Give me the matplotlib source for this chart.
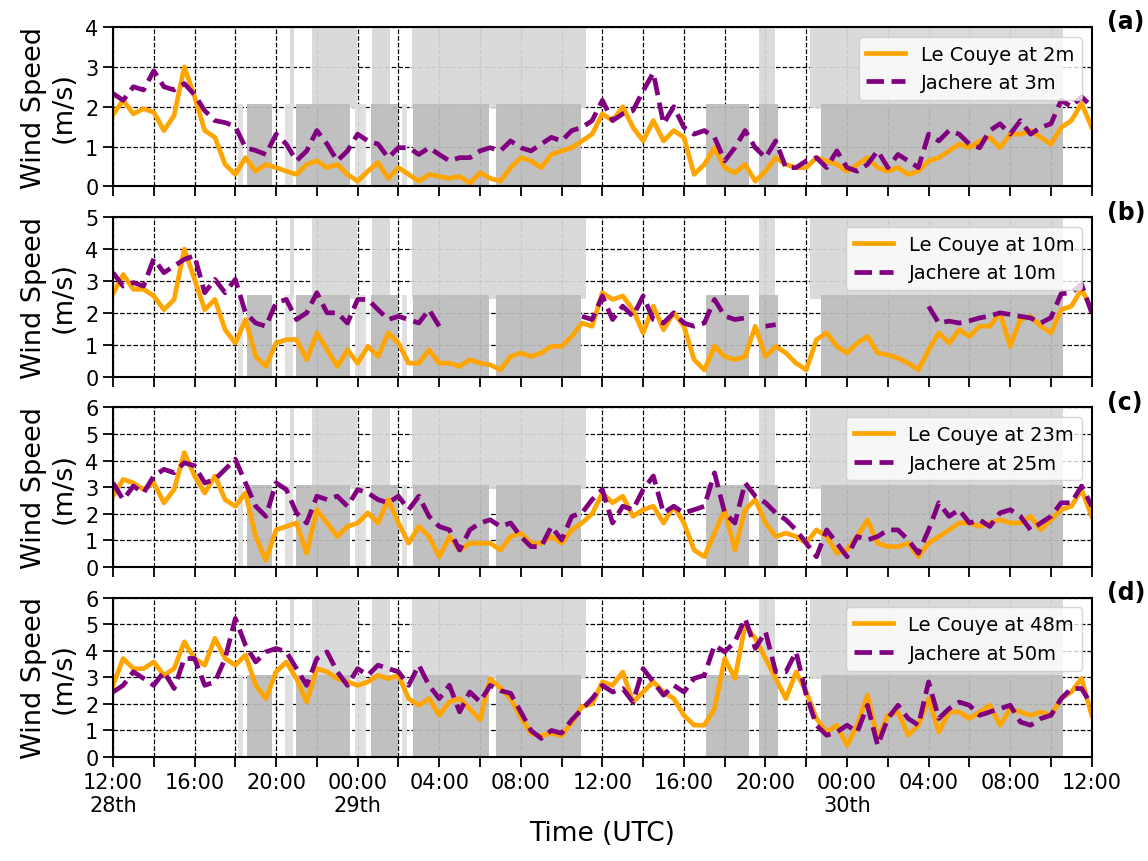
import numpy as np
import pandas as pd
import matplotlib
matplotlib.use("Agg")
import matplotlib.pyplot as plt

nan = np.nan

# 30-min wind speeds (m/s), 28th 12:00 -> 30th 12:00 UTC
le_couye_2m = [
    1.80, 2.16, 1.82, 1.95, 1.86, 1.40, 1.78, 3.00, 2.25, 1.40, 1.23, 0.55,
    0.30, 0.72, 0.38, 0.55, 0.47, 0.38, 0.30, 0.55, 0.64, 0.47, 0.55, 0.30,
    0.13, 0.38, 0.60, 0.20, 0.47, 0.30, 0.13, 0.30, 0.25, 0.20, 0.25, 0.08,
    0.34, 0.20, 0.13, 0.47, 0.72, 0.64, 0.47, 0.80, 0.89, 0.97, 1.14, 1.31,
    1.82, 1.65, 2.00, 1.48, 1.14, 1.65, 1.14, 1.40, 1.23, 0.30, 0.55, 0.97,
    0.47, 0.34, 0.55, 0.13, 0.38, 0.72, 0.55, 0.47, 0.47, 0.72, 0.64, 0.55,
    0.38, 0.55, 0.72, 0.47, 0.38, 0.47, 0.30, 0.38, 0.64, 0.72, 0.89, 1.06,
    0.97, 1.14, 1.23, 0.97, 1.31, 1.31, 1.40, 1.23, 1.06, 1.48, 1.65, 2.08,
    1.48]
jachere_3m = [
    2.33, 2.16, 2.50, 2.42, 2.90, 2.50, 2.42, 2.58, 2.30, 1.90, 1.65, 1.60,
    1.50, 0.97, 0.90, 0.80, 1.31, 1.06, 0.64, 0.89, 1.40, 1.06, 0.64, 0.89,
    1.31, 1.14, 1.06, 0.72, 0.97, 0.97, 0.80, 0.97, 0.80, 0.64, 0.72, 0.72,
    0.89, 0.97, 0.89, 1.14, 0.97, 0.89, 1.06, 1.23, 1.14, 1.40, 1.48, 1.65,
    2.16, 1.65, 1.82, 1.90, 2.40, 2.85, 1.57, 2.00, 1.48, 1.31, 1.40, 1.23,
    0.64, 0.97, 1.40, 0.97, 0.72, 1.14, 0.47, 0.47, 0.64, 0.72, 0.47, 0.89,
    0.47, 0.38, 0.55, 0.89, 0.47, 0.80, 0.64, 0.47, 1.31, 1.14, 1.40, 1.31,
    1.06, 0.97, 1.40, 1.57, 1.31, 1.65, 1.31, 1.48, 1.57, 2.16, 2.00, 2.25,
    2.00]

le_couye_10m = [
    2.60, 3.20, 2.74, 2.74, 2.53, 2.10, 2.42, 4.00, 3.05, 2.10, 2.42, 1.47,
    1.05, 1.79, 0.63, 0.32, 1.05, 1.16, 1.16, 0.53, 1.37, 0.84, 0.32, 0.84,
    0.42, 0.95, 0.63, 1.37, 1.05, 0.42, 0.42, 0.84, 0.42, 0.42, 0.32, 0.53,
    0.42, 0.37, 0.21, 0.63, 0.74, 0.63, 0.74, 0.95, 0.95, 1.26, 1.68, 1.58,
    2.63, 2.42, 2.53, 2.10, 1.37, 2.21, 1.47, 2.00, 1.58, 0.53, 0.21, 0.95,
    0.63, 0.53, 0.63, 1.58, 0.63, 0.95, 0.74, 0.42, 0.21, 1.16, 1.37, 0.95,
    0.74, 1.05, 1.26, 0.74, 0.68, 0.58, 0.42, 0.21, 0.84, 1.37, 1.05, 1.47,
    1.26, 1.58, 1.58, 2.00, 0.95, 1.79, 1.89, 1.58, 1.37, 2.10, 2.21, 2.74,
    2.10]
jachere_10m = [
    3.26, 2.84, 2.95, 2.84, 3.70, 3.26, 3.47, 3.68, 3.79, 2.63, 3.05, 2.63,
    3.05, 2.00, 1.68, 1.58, 2.32, 2.42, 1.79, 2.00, 2.63, 2.00, 2.00, 1.68,
    2.42, 2.42, 2.10, 1.79, 1.89, 1.79, 1.68, 2.10, 1.58, nan, nan, nan,
    nan, nan, nan, nan, nan, nan, nan, nan, nan, nan, 1.89, 1.79,
    2.53, 1.79, 2.21, 1.89, 2.53, 1.79, 1.68, 2.00, 1.68, 1.58, 1.68, 2.42,
    1.90, 1.79, 1.84, nan, 1.58, 1.63, nan, nan, nan, nan, nan, nan,
    nan, nan, nan, nan, nan, nan, nan, nan, 2.20, 1.68, 1.74, 1.68,
    1.75, 1.84, 1.90, 2.00, 1.95, 1.89, 1.84, 1.68, 1.85, 2.60, 2.63, 2.90,
    2.00]

le_couye_23m = [
    2.66, 3.29, 3.16, 2.91, 3.16, 2.41, 2.91, 4.30, 3.42, 2.78, 3.42, 2.53,
    2.28, 2.78, 1.14, 0.25, 1.39, 1.52, 1.65, 0.51, 2.15, 1.65, 1.14, 1.52,
    1.65, 2.03, 1.65, 2.53, 1.65, 0.89, 1.52, 1.14, 0.38, 1.14, 0.63, 0.89,
    0.89, 0.89, 0.63, 1.14, 1.27, 0.89, 0.89, 1.14, 0.89, 1.39, 1.65, 2.00,
    2.78, 2.41, 2.66, 1.90, 2.15, 2.28, 1.65, 2.28, 1.65, 0.63, 0.38, 1.27,
    2.15, 0.63, 2.15, 2.53, 1.65, 1.14, 1.27, 1.14, 0.89, 1.39, 1.14, 0.51,
    0.63, 1.14, 1.77, 0.89, 0.76, 0.76, 0.89, 0.38, 0.89, 1.14, 1.39, 1.65,
    1.65, 1.52, 1.65, 1.77, 1.65, 1.65, 1.90, 1.39, 1.77, 2.15, 2.28, 2.91,
    1.90]
jachere_25m = [
    3.16, 2.53, 3.04, 2.78, 3.42, 3.67, 3.54, 3.92, 3.80, 3.16, 3.29, 3.67,
    4.05, 3.16, 2.28, 1.90, 3.16, 2.91, 2.03, 1.65, 2.66, 2.53, 2.66, 2.28,
    2.91, 2.78, 2.53, 2.41, 2.66, 2.15, 2.66, 1.90, 1.52, 1.39, 0.63, 1.39,
    1.65, 1.77, 1.52, 1.65, 1.14, 0.76, 0.76, 1.52, 1.01, 1.90, 2.03, 2.53,
    2.91, 1.65, 2.28, 2.15, 2.91, 3.42, 2.03, 2.28, 2.03, 2.15, 2.28, 3.54,
    2.03, 1.65, 3.16, 2.66, 2.41, 2.03, 1.77, 1.39, 0.89, 0.38, 1.39, 0.89,
    0.38, 1.14, 1.01, 1.14, 1.39, 1.39, 1.01, 0.51, 1.39, 2.41, 1.90, 2.15,
    1.65, 1.77, 1.52, 2.03, 2.15, 1.90, 1.39, 1.65, 1.90, 2.41, 2.41, 3.04,
    2.28]

le_couye_48m = [
    2.70, 3.71, 3.33, 3.33, 3.58, 3.08, 3.33, 4.34, 3.71, 3.46, 4.47, 3.71,
    3.46, 3.84, 2.70, 2.20, 3.21, 3.58, 2.95, 2.08, 3.33, 3.21, 2.95, 2.83,
    2.70, 2.83, 3.08, 2.95, 3.08, 2.20, 1.95, 2.20, 1.57, 2.08, 2.20, 1.82,
    1.40, 2.95, 2.60, 2.20, 1.50, 0.90, 0.80, 0.90, 0.80, 1.30, 1.90, 2.00,
    2.83, 2.70, 3.20, 2.07, 2.45, 2.83, 2.45, 2.20, 1.57, 1.20, 1.20, 1.82,
    3.71, 2.96, 4.97, 4.47, 3.71, 2.96, 2.20, 3.20, 2.45, 1.45, 0.94, 1.20,
    0.44, 1.20, 2.33, 0.69, 1.57, 1.70, 0.82, 1.20, 2.20, 0.94, 1.70, 1.70,
    1.45, 1.70, 1.95, 1.20, 1.82, 1.70, 1.57, 1.70, 1.57, 2.20, 2.45, 2.96,
    1.57]
jachere_50m = [
    2.45, 2.70, 3.21, 2.96, 2.70, 3.21, 2.58, 3.71, 3.71, 2.70, 2.83, 3.71,
    5.22, 4.21, 3.58, 3.96, 4.09, 3.96, 3.33, 2.70, 3.71, 3.96, 3.21, 2.70,
    3.33, 3.08, 3.46, 3.33, 3.21, 2.70, 3.46, 2.70, 2.20, 2.70, 1.70, 2.45,
    2.08, 2.70, 2.50, 2.40, 1.70, 1.00, 0.70, 1.00, 0.90, 1.40, 1.80, 2.20,
    2.70, 2.45, 2.58, 2.07, 3.33, 2.83, 2.33, 2.70, 2.45, 2.96, 3.08, 4.21,
    3.96, 4.34, 5.22, 4.09, 4.72, 3.21, 3.21, 3.96, 2.33, 1.20, 0.82, 0.94,
    1.20, 0.94, 1.95, 0.44, 1.45, 1.95, 1.45, 1.20, 2.83, 1.45, 1.82, 2.07,
    1.95, 1.57, 1.70, 1.82, 1.95, 1.32, 1.20, 1.45, 1.57, 2.20, 2.58, 2.58,
    1.95]

# flagged periods, hours after 28th 12:00
upper_periods = [(8.68, 8.87), (9.75, 11.96), (12.70, 13.58), (14.66, 23.20),
                 (31.70, 32.45), (34.17, 46.60)]
lower_periods = [(6.58, 7.78), (9.00, 11.62), (12.63, 13.98), (14.72, 18.44),
                 (18.77, 22.97), (29.10, 31.20), (31.68, 32.60), (34.74, 46.60)]
faint_periods = [(6.14, 6.36), (8.43, 8.84), (11.86, 12.43), (14.15, 14.43)]

panels = [
    (le_couye_2m, jachere_3m, "Le Couye at 2m", "Jachere at 3m", 4, "(a)"),
    (le_couye_10m, jachere_10m, "Le Couye at 10m", "Jachere at 10m", 5, "(b)"),
    (le_couye_23m, jachere_25m, "Le Couye at 23m", "Jachere at 25m", 6, "(c)"),
    (le_couye_48m, jachere_50m, "Le Couye at 48m", "Jachere at 50m", 6, "(d)"),
]

start = pd.Timestamp("2016-06-28 12:00")
time = pd.date_range(start, periods=len(le_couye_2m), freq="30min")


def when(h):
    return start + pd.Timedelta(hours=h)


fig, axes = plt.subplots(4, 1, figsize=(11.48, 8.62), sharex=True)
fig.subplots_adjust(left=0.0984, right=0.951, top=0.9675, bottom=0.1206, hspace=0.194)

for ax, (lc, ja, lab1, lab2, ymax, tag) in zip(axes, panels):
    for h0, h1 in upper_periods:
        ax.axvspan(when(h0), when(h1), ymin=0.49, ymax=1, color="#d8d8d8", alpha=0.93, lw=0)
    for h0, h1 in lower_periods:
        ax.axvspan(when(h0), when(h1), ymin=0, ymax=0.515, color="#bcbcbc", alpha=0.93, lw=0)
    for h0, h1 in faint_periods:
        ax.axvspan(when(h0), when(h1), ymin=0, ymax=0.515, color="#dedede", alpha=0.93, lw=0)

    ax.plot(time, lc, color="orange", lw=3.4, label=lab1)
    ax.plot(time, ja, color="purple", lw=3.4, ls="--", label=lab2)

    ax.set_ylim(0, ymax)
    ax.set_yticks(range(ymax + 1))
    ax.set_axisbelow(True)
    ax.grid(True, color="black", ls="--", lw=0.9)
    ax.tick_params(labelsize=15, length=7, width=1.3)
    for s in ax.spines.values():
        s.set_linewidth(1.5)
    ax.set_ylabel("Wind Speed\n(m/s)", fontsize=19.5, labelpad=6)
    ax.legend(loc="upper right", fontsize=14)
    ax.text(1.016, 1.035, tag, transform=ax.transAxes, fontsize=17,
            fontweight="bold", ha="left", va="center")

ticks = pd.date_range(start, periods=25, freq="2h")
labels = []
for i, t in enumerate(ticks):
    if i % 2:
        labels.append("")
    elif i == 0 or t.hour == 0:
        labels.append(f"{t:%H:%M}\n{t.day}th")
    else:
        labels.append(f"{t:%H:%M}")
axes[-1].set_xticks(ticks)
axes[-1].set_xticklabels(labels)
axes[-1].set_xlim(time[0], time[-1])
axes[-1].set_xlabel("Time (UTC)", fontsize=19)
fig.align_ylabels(axes)

fig.savefig("out.png", dpi=100)
